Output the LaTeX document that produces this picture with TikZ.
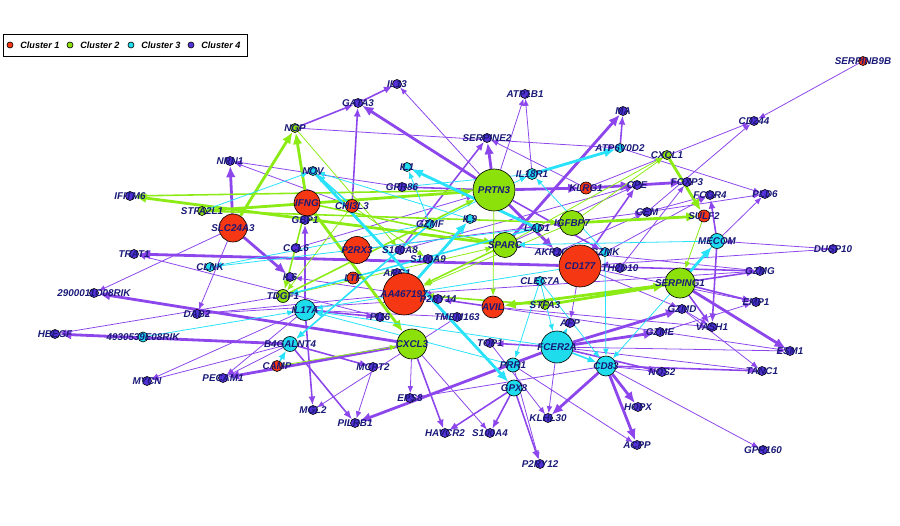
\documentclass[tikz,border=0pt]{standalone}
\usepackage{fontspec}
\setmainfont{Liberation Sans}
\usetikzlibrary{arrows.meta,backgrounds}
\definecolor{nred}{RGB}{245,55,20}
\definecolor{ngreen}{RGB}{140,225,10}
\definecolor{ncyan}{RGB}{30,220,235}
\definecolor{npurple}{RGB}{85,50,215}
\definecolor{epurple}{RGB}{140,70,235}
\definecolor{egreen}{RGB}{140,235,20}
\definecolor{ecyan}{RGB}{40,225,250}
\definecolor{labtext}{RGB}{25,25,120}

\begin{document}
\begin{tikzpicture}[x=0.2mm,y=-0.2mm,
  gene/.style={circle,draw=black,line width=0.35pt,inner sep=0pt,minimum size=#1*0.2mm},
  gene/.default=9,
  lab/.style={font=\fontsize{5.6}{6}\selectfont\bfseries\itshape,text=labtext,inner sep=0pt},
  c1/.style={gene=#1,fill=nred}, c1/.default=9,
  c2/.style={gene=#1,fill=ngreen}, c2/.default=9,
  c3/.style={gene=#1,fill=ncyan}, c3/.default=9,
  c4/.style={gene=#1,fill=npurple}, c4/.default=9,
  pu1/.style={draw=epurple,line width=0.45pt,-{Latex[length=4pt,width=3.2pt]}},
  pu2/.style={draw=epurple,line width=0.9pt,-{Latex[length=5pt,width=4pt]}},
  pu3/.style={draw=epurple,line width=1.6pt,-{Latex[length=6.5pt,width=5.5pt]}},
  gr1/.style={draw=egreen,line width=0.45pt,-{Latex[length=4pt,width=3.2pt]}},
  gr2/.style={draw=egreen,line width=0.9pt,-{Latex[length=5pt,width=4pt]}},
  gr3/.style={draw=egreen,line width=1.6pt,-{Latex[length=6.5pt,width=5.5pt]}},
  cy1/.style={draw=ecyan,line width=0.45pt,-{Latex[length=4pt,width=3.2pt]}},
  cy2/.style={draw=ecyan,line width=0.9pt,-{Latex[length=5pt,width=4pt]}},
  cy3/.style={draw=ecyan,line width=1.6pt,-{Latex[length=6.5pt,width=5.5pt]}},
  keytext/.style={font=\fontsize{5.2}{6}\selectfont\bfseries\itshape,anchor=west,inner sep=0pt}
]
\useasboundingbox (0,0) rectangle (900,526);

% legend
\node[draw=black,line width=0.5pt,minimum width=244*0.2mm,minimum height=22*0.2mm,inner sep=0pt] (key) at (125,45) {};
\node[gene=6,fill=nred] (keyone) at (10,45) {};
\node[keytext] (keyonetext) at (20,45) {Cluster 1};
\node[gene=6,fill=ngreen] (keytwo) at (70,45) {};
\node[keytext] (keytwotext) at (80,45) {Cluster 2};
\node[gene=6,fill=ncyan] (keythree) at (131,45) {};
\node[keytext] (keythreetext) at (141,45) {Cluster 3};
\node[gene=6,fill=npurple] (keyfour) at (191,45) {};
\node[keytext] (keyfourtext) at (201,45) {Cluster 4};

% genes
\node[c1,label={[lab]center:SERPINB9B}] (serpinb) at (863,61) {};
\node[c4,label={[lab]center:CD244}] (cdtwo) at (754,121) {};
\node[c4,label={[lab]center:MA}] (ma) at (623,111) {};
\node[c3,label={[lab]center:ATP6V0D2}] (atpsix) at (620,148) {};
\node[c2,label={[lab]center:CXCL1}] (cxclone) at (667,155) {};
\node[c4,label={[lab]center:CPE}] (cpe) at (637,185) {};
\node[c4,label={[lab]center:FOXP3}] (foxp) at (687,182) {};
\node[c4,label={[lab]center:FCGR4}] (fcgr) at (710,195) {};
\node[c4,label={[lab]center:PLD6}] (pld) at (765,194) {};
\node[c1=12,label={[lab]center:SULF2}] (sulf) at (704,216) {};
\node[c4,label={[lab]center:GEM}] (gem) at (647,212) {};
\node[c3=15,label={[lab]center:MECOM}] (mecom) at (717,241) {};
\node[c4,label={[lab]center:DUSP10}] (dusp) at (833,249) {};
\node[c4,label={[lab]center:GZMG}] (gzmg) at (760,271) {};
\node[c4,label={[lab]center:EMP1}] (emp) at (756,302) {};
\node[c4,label={[lab]center:GZMD}] (gzmd) at (682,309) {};
\node[c4,label={[lab]center:VASH1}] (vash) at (712,327) {};
\node[c4,label={[lab]center:GZME}] (gzme) at (660,332) {};
\node[c4,label={[lab]center:ESM1}] (esm) at (790,351) {};
\node[c4,label={[lab]center:TANC1}] (tanc) at (762,371) {};
\node[c4,label={[lab]center:NOS2}] (nos) at (662,372) {};
\node[c4,label={[lab]center:HOPX}] (hopx) at (638,407) {};
\node[c4,label={[lab]center:ACPP}] (acpp) at (637,445) {};
\node[c4,label={[lab]center:GPR160}] (gprsix) at (763,450) {};
\node[c4,label={[lab]center:KLHL30}] (klhl) at (548,418) {};
\node[c4,label={[lab]center:P2RY12}] (ptwory) at (540,464) {};
\node[c4,label={[lab]center:S100A4}] (sfour) at (490,433) {};
\node[c4,label={[lab]center:HAVCR2}] (havcr) at (445,433) {};
\node[c4,label={[lab]center:EPS8}] (eps) at (410,398) {};
\node[c4,label={[lab]center:PILRB1}] (pilrb) at (355,423) {};
\node[c4,label={[lab]center:MGL2}] (mgl) at (313,410) {};
\node[c4,label={[lab]center:MCPT2}] (mcpt) at (373,367) {};
\node[c4,label={[lab]center:PECAM1}] (pecam) at (223,378) {};
\node[c4,label={[lab]center:MYCN}] (mycn) at (147,381) {};
\node[c1=11,label={[lab]center:CAMP}] (camp) at (277,366) {};
\node[c3=15,label={[lab]center:B4GALNT4}] (bfour) at (290,344) {};
\node[c3=10,label={[lab]center:4930539E08RIK}] (erik) at (143,337) {};
\node[c4,label={[lab]center:HBEGF}] (hbegf) at (55,334) {};
\node[c4,label={[lab]center:DAB2}] (dab) at (197,314) {};
\node[c4,label={[lab]center:2900011O08RIK}] (rik) at (94,293) {};
\node[c4,label={[lab]center:TRAT1}] (trat) at (134,254) {};
\node[c3,label={[lab]center:CLNK}] (clnk) at (210,267) {};
\node[c2,label={[lab]center:STFA2L1}] (stfa) at (202,211) {};
\node[c1=28,label={[lab]center:SLC24A3}] (slc) at (233,228) {};
\node[c4,label={[lab]center:IFITM6}] (ifitm) at (130,196) {};
\node[c4,label={[lab]center:NRN1}] (nrn) at (230,161) {};
\node[c2,label={[lab]center:NGP}] (ngp) at (295,128) {};
\node[c4,label={[lab]center:GATA3}] (gata) at (358,103) {};
\node[c4,label={[lab]center:IL13}] (ilthirteen) at (397,84) {};
\node[c3,label={[lab]center:NOV}] (nov) at (313,171) {};
\node[c1=26,label={[lab]center:IFNG}] (ifng) at (307,203) {};
\node[c1=13,label={[lab]center:CHI3L3}] (chi) at (352,206) {};
\node[c4,label={[lab]center:GBP1}] (gbp) at (305,220) {};
\node[c4,label={[lab]center:CCL6}] (ccl) at (296,248) {};
\node[c4,label={[lab]center:IL6}] (ilsix) at (290,277) {};
\node[c1=27,label={[lab]center:P2RX3}] (ptwox) at (357,250) {};
\node[c1=12,label={[lab]center:LTF}] (ltf) at (353,278) {};
\node[c2=13,label={[lab]center:TDGF1}] (tdgf) at (283,296) {};
\node[c3=21,label={[lab]center:IL17A}] (ilsev) at (305,310) {};
\node[c4,label={[lab]center:S100A8}] (seight) at (400,250) {};
\node[c4,label={[lab]center:S100A9}] (snine) at (428,259) {};
\node[c3,label={[lab]center:GZMF}] (gzmf) at (430,224) {};
\node[c3,label={[lab]center:IL9}] (ilnine) at (470,219) {};
\node[c4,label={[lab]center:GPR86}] (gpr) at (402,187) {};
\node[c4,label={[lab]center:ARG1}] (arg) at (397,273) {};
\node[c1=42,label={[lab]center:AA467197}] (aa) at (404,294) {};
\node[c4,label={[lab]center:P2RY14}] (ptwoy) at (438,299) {};
\node[c4,label={[lab]center:TMEM163}] (tmem) at (457,317) {};
\node[c4,label={[lab]center:PI16}] (pis) at (380,317) {};
\node[c2=30,label={[lab]center:CXCL3}] (cxclthree) at (412,344) {};
\node[c4,label={[lab]center:TOP1}] (top) at (490,343) {};
\node[c3=32,label={[lab]center:FCER2A}] (fcer) at (557,347) {};
\node[c3=14,label={[lab]center:PRR1}] (prr) at (513,365) {};
\node[c3=16,label={[lab]center:GPX8}] (gpx) at (514,388) {};
\node[c3=20,label={[lab]center:CD83}] (cdeight) at (606,366) {};
\node[c4,label={[lab]center:AFP}] (afp) at (570,323) {};
\node[c4,label={[lab]center:AKR1C18}] (akr) at (557,252) {};
\node[c3,label={[lab]center:GZMK}] (gzmk) at (605,252) {};
\node[c4,label={[lab]center:TH2D10}] (thtwo) at (620,268) {};
\node[c1=42,label={[lab]center:CD177}] (cdone) at (580,266) {};
\node[c3,label={[lab]center:CLEC7A}] (clec) at (540,281) {};
\node[c2,label={[lab]center:STFA3}] (stfathree) at (545,305) {};
\node[c1=22,label={[lab]center:AVIL}] (avil) at (493,307) {};
\node[c2=25,label={[lab]center:SPARC}] (sparc) at (505,245) {};
\node[c3,label={[lab]center:LAD1}] (lad) at (537,228) {};
\node[c2=25,label={[lab]center:IGFBP7}] (igf) at (572,223) {};
\node[c2=42,label={[lab]center:PRTN3}] (prtn) at (494,190) {};
\node[c1=12,label={[lab]center:KLRG1}] (klrg) at (586,188) {};
\node[c4,label={[lab]center:SERPINE2}] (serpine) at (487,138) {};
\node[c4,label={[lab]center:ATP1B1}] (atpone) at (525,94) {};
\node[c3=11,label={[lab]center:IL18R1}] (ileight) at (532,174) {};
\node[c3,label={[lab]center:IL1}] (ilone) at (407,167) {};
\node[c2=30,label={[lab]center:SERPING1}] (serping) at (680,283) {};

% links
\begin{scope}[on background layer]
\draw[pu1] (serpinb) -- (cdtwo);
\draw[pu1] (gem) -- (cdtwo);
\draw[pu1] (klrg) -- (cdtwo);
\draw[pu1] (atpsix) -- (pld);
\draw[pu1] (gem) -- (pld);
\draw[pu1] (mecom) -- (pld);
\draw[pu1] (ngp) -- (atpsix);
\draw[pu1] (gpr) -- (nrn);
\draw[pu1] (chi) -- (nrn);
\draw[pu1] (klrg) -- (serpine);
\draw[pu1] (prtn) -- (atpone);
\draw[pu1] (ileight) -- (atpone);
\draw[pu1] (slc) -- (dab);
\draw[pu1] (slc) -- (rik);
\draw[pu1] (pis) -- (trat);
\draw[pu1] (tdgf) -- (hbegf);
\draw[pu1] (ptwoy) -- (dab);
\draw[pu1] (aa) -- (dab);
\draw[pu1] (bfour) -- (mycn);
\draw[pu1] (ilsev) -- (mycn);
\draw[pu1] (ilsev) -- (pecam);
\draw[pu1] (bfour) -- (pecam);
\draw[pu1] (tmem) -- (mgl);
\draw[pu1] (mcpt) -- (pilrb);
\draw[pu1] (cxclthree) -- (eps);
\draw[pu1] (cxclthree) -- (sfour);
\draw[pu1] (prr) -- (acpp);
\draw[pu1] (prr) -- (ptwory);
\draw[pu1] (cdeight) -- (gprsix);
\draw[pu1] (cdeight) -- (eps);
\draw[pu1] (fcer) -- (tanc);
\draw[pu1] (fcer) -- (klhl);
\draw[pu1] (fcer) -- (esm);
\draw[pu1] (gzme) -- (emp);
\draw[pu1] (cdone) -- (emp);
\draw[pu1] (gzmd) -- (vash);
\draw[pu1] (gzmd) -- (tanc);
\draw[pu1] (avil) -- (vash);
\draw[pu1] (dusp) -- (mecom);
\draw[pu1] (dusp) -- (cdone);
\draw[pu1] (sparc) -- (gzmg);
\draw[pu1] (aa) -- (gzmg);
\draw[pu1] (thtwo) -- (foxp);
\draw[pu1] (cdone) -- (gzmd);
\draw[pu1] (cdone) -- (fcgr);
\draw[pu1] (gem) -- (fcgr);
\draw[pu1] (akr) -- (gem);
\draw[pu1] (sparc) -- (cpe);
\draw[pu1] (cdone) -- (afp);
\draw[pu1] (cdeight) -- (nos);
\draw[pu1] (top) -- (klhl);
\draw[pu1] (ccl) -- (prtn);
\draw[pu1] (aa) -- (ilsix);
\draw[pu1] (prtn) -- (ilthirteen);
\draw[pu1] (avil) -- (esm);
\draw[pu1] (ptwox) -- (gem);
\draw[pu1] (seight) -- (cpe);
\draw[pu1] (arg) -- (ptwoy);
\draw[pu1] (ilsev) -- (tmem);
\draw[pu2] (ngp) -- (gata);
\draw[pu2] (chi) -- (gata);
\draw[pu2] (gata) -- (ilthirteen);
\draw[pu2] (seight) -- (serpine);
\draw[pu2] (prtn) -- (gpr);
\draw[pu2] (atpsix) -- (ma);
\draw[pu2] (mecom) -- (fcgr);
\draw[pu2] (serping) -- (gzmg);
\draw[pu2] (cdone) -- (gzmg);
\draw[pu2] (serping) -- (emp);
\draw[pu2] (mecom) -- (vash);
\draw[pu2] (serping) -- (vash);
\draw[pu2] (cdeight) -- (tanc);
\draw[pu2] (fcer) -- (nos);
\draw[pu2] (fcer) -- (top);
\draw[pu2] (gpx) -- (ptwory);
\draw[pu2] (gpx) -- (sfour);
\draw[pu2] (gpx) -- (havcr);
\draw[pu2] (cxclthree) -- (havcr);
\draw[pu2] (bfour) -- (pilrb);
\draw[pu2] (bfour) -- (mcpt);
\draw[pu2] (ilsev) -- (mgl);
\draw[pu2] (ilsev) -- (gbp);
\draw[pu2] (ilsev) -- (pis);
\draw[pu2] (avil) -- (ptwoy);
\draw[pu2] (prtn) -- (gzmk);
\draw[pu2] (cdone) -- (cpe);
\draw[pu3] (cpe) -- (foxp);
\draw[pu3] (klrg) -- (cpe);
\draw[pu3] (prtn) -- (klrg);
\draw[pu3] (sparc) -- (ma);
\draw[pu3] (slc) -- (nrn);
\draw[pu3] (prtn) -- (gata);
\draw[pu3] (prtn) -- (akr);
\draw[pu3] (cdeight) -- (hopx);
\draw[pu3] (cdeight) -- (acpp);
\draw[pu3] (cdeight) -- (klhl);
\draw[pu3] (serping) -- (esm);
\draw[pu3] (cxclthree) -- (pecam);
\draw[pu3] (bfour) -- (hbegf);
\draw[pu3] (cxclthree) -- (rik);
\draw[pu3] (cdone) -- (trat);
\draw[pu3] (slc) -- (ilsix);
\draw[pu3] (fcer) -- (gzme);
\draw[pu3] (fcer) -- (gzmd);
\draw[pu3] (fcer) -- (pilrb);
\draw[pu3] (prtn) -- (serpine);
\draw[gr1] (sparc) -- (cxclone);
\draw[gr1] (igf) -- (cxclone);
\draw[gr1] (sulf) -- (serping);
\draw[gr1] (camp) -- (cxclthree);
\draw[gr1] (prtn) -- (avil);
\draw[gr1] (chi) -- (tdgf);
\draw[gr1] (chi) -- (snine);
\draw[gr1] (igf) -- (aa);
\draw[gr1] (ngp) -- (seight);
\draw[gr1] (tdgf) -- (sparc);
\draw[gr2] (ifng) -- (tdgf);
\draw[gr2] (ifng) -- (sparc);
\draw[gr2] (stfa) -- (igf);
\draw[gr2] (tdgf) -- (prtn);
\draw[gr2] (sparc) -- (aa);
\draw[gr2] (stfathree) -- (aa);
\draw[gr2] (prtn) -- (ifitm);
\draw[gr3] (slc) -- (ngp);
\draw[gr3] (ifng) -- (ngp);
\draw[gr3] (sparc) -- (ifitm);
\draw[gr3] (igf) -- (sulf);
\draw[gr3] (cxclone) -- (sulf);
\draw[gr3] (serping) -- (avil);
\draw[gr3] (stfathree) -- (serping);
\draw[gr3] (stfa) -- (prtn);
\draw[gr3] (ifng) -- (cxclthree);
\draw[cy1] (erik) -- (ilsev);
\draw[cy1] (stfa) -- (nov);
\draw[cy1] (ilnine) -- (nov);
\draw[cy1] (gzmf) -- (clnk);
\draw[cy1] (lad) -- (clnk);
\draw[cy1] (mecom) -- (sparc);
\draw[cy1] (gzmk) -- (ileight);
\draw[cy1] (gzmf) -- (ileight);
\draw[cy1] (gzmf) -- (ilone);
\draw[cy1] (fcer) -- (ilsev);
\draw[cy1] (cdone) -- (ilsev);
\draw[cy1] (prr) -- (ilsev);
\draw[cy1] (clec) -- (prr);
\draw[cy1] (clec) -- (cdeight);
\draw[cy1] (gzmk) -- (cdeight);
\draw[cy1] (clec) -- (fcer);
\draw[cy1] (mecom) -- (cdeight);
\draw[cy1] (ileight) -- (gpr);
\draw[cy2] (camp) -- (bfour);
\draw[cy2] (gzmf) -- (bfour);
\draw[cy2] (chi) -- (nov);
\draw[cy2] (fcer) -- (cdeight);
\draw[cy2] (lad) -- (tdgf);
\draw[cy3] (ileight) -- (atpsix);
\draw[cy3] (lad) -- (ilone);
\draw[cy3] (nov) -- (gpx);
\draw[cy3] (serping) -- (mecom);
\draw[cy3] (aa) -- (ilnine);
\draw[cy3] (fcer) -- (afp);
\end{scope}
\end{tikzpicture}
\end{document}
